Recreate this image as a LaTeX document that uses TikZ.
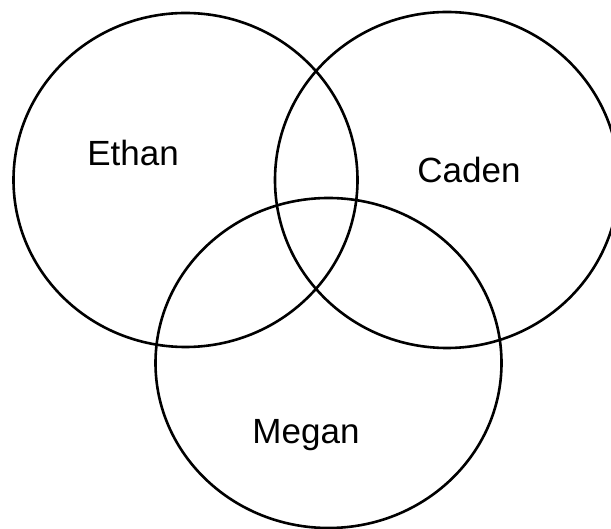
\documentclass[tikz,border=0pt]{standalone}
\usepackage{fontspec}
\setmainfont{Liberation Sans}
\usetikzlibrary{shapes.geometric}
\tikzset{
  setc/.style ={draw=black,ellipse,line width=2.6pt,inner sep=0pt},
  setlbl/.style ={font=\fontsize{35}{42}\selectfont,inner sep=0pt},
}
\begin{document}
\begin{tikzpicture}[x=1pt, y=-1pt]
\useasboundingbox (0,0) rectangle (611,529);

% the three sets
\node[setc,minimum width=344pt,minimum height=334pt] (ethanSet) at (185.5,180) {};
\node[setc,minimum width=344pt,minimum height=336pt] (cadenSet) at (447,180)   {};
\node[setc,minimum width=346pt,minimum height=330pt] (meganSet) at (328.5,363) {};

% names
\node[setlbl] (ethan) at (133,153) {Ethan};
\node[setlbl] (caden) at (469,170) {Caden};
\node[setlbl] (megan) at (306,435) {Megan};
\end{tikzpicture}
\end{document}
